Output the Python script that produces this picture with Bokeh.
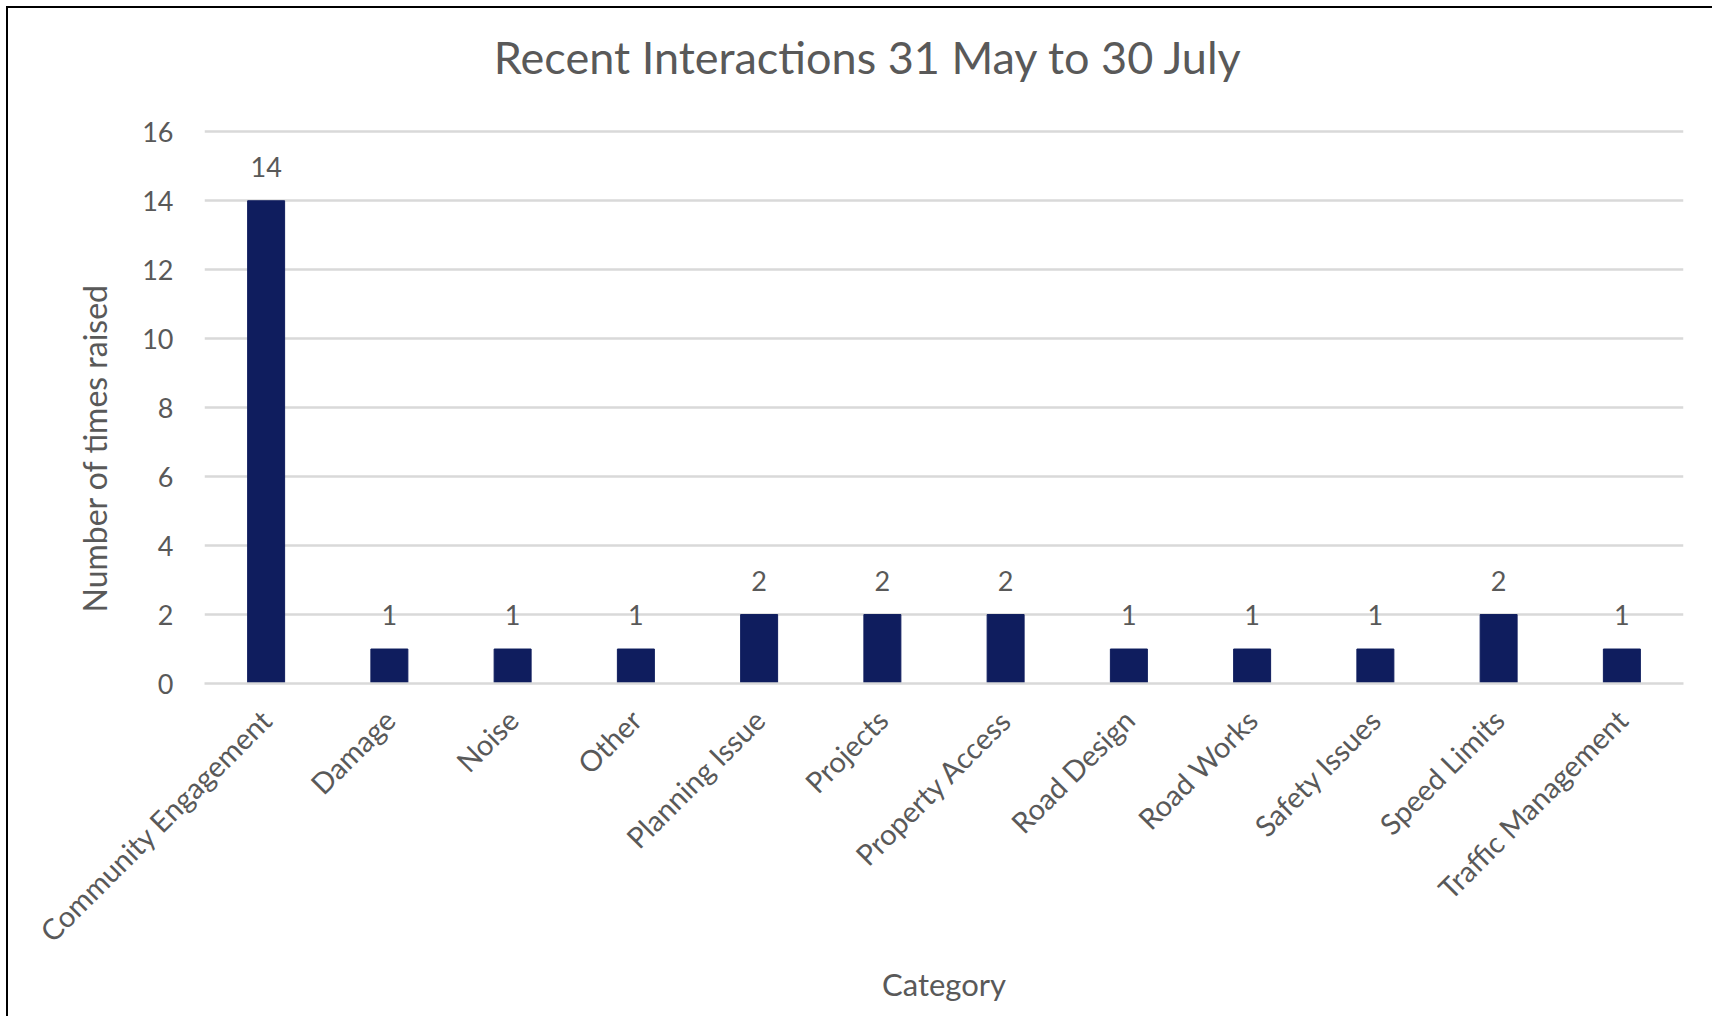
import math
from bokeh.plotting import figure
from bokeh.models import (ColumnDataSource, FactorRange, Range1d, FixedTicker,
                          Title, Label)
from bokeh.core.properties import value
from bokeh.embed import file_html
from bokeh.resources import INLINE

# ---- data ----
categories = ["Community Engagement", "Damage", "Noise", "Other", "Planning Issue",
              "Projects", "Property Access", "Road Design", "Road Works",
              "Safety Issues", "Speed Limits", "Traffic Management"]
counts = [14, 1, 1, 1, 2, 2, 2, 1, 1, 1, 2, 1]
y_ticks = [0, 2, 4, 6, 8, 10, 12, 14, 16]
title_text = "Recent Interactions 31 May to 30 July"
x_title = "Category"
y_title = "Number of times raised"

FONT = "Lato"
GRAY = "#595959"
BAR = "#0f1d5e"
GRID = "#d9d9d9"

# layout (canvas pixels)
W, H = 1706, 1010
FRAME_L, FRAME_R, FRAME_T, FRAME_B = 196, 1675, 4, 675
PX_PER_UNIT = 34.48
y_top = (FRAME_B - FRAME_T) / PX_PER_UNIT  # headroom above the 16 gridline holds the title

src = ColumnDataSource(dict(cat=categories, n=counts, lab=[str(v) for v in counts]))

p = figure(x_range=FactorRange(*categories), y_range=Range1d(0, y_top),
           width=W, height=H, output_backend="svg", toolbar_location=None,
           min_border_left=FRAME_L, min_border_right=W - FRAME_R,
           min_border_top=FRAME_T, min_border_bottom=H - FRAME_B)
p.margin = (6, 0, 0, 6)
p.styles = {"border-top": "2px solid #000", "border-left": "2px solid #000"}
p.outline_line_color = None
p.background_fill_color = "white"
p.border_fill_color = "white"

p.vbar(x="cat", top="n", width=0.3, source=src, fill_color=BAR, line_color=BAR)
p.text(x="cat", y="n", text="lab", source=src, text_align="center",
       text_baseline="alphabetic", y_offset=-34, text_color=GRAY,
       text_font=value(FONT), text_font_size="27px")

p.xgrid.grid_line_color = None
p.ygrid.grid_line_color = GRID
p.ygrid.grid_line_width = 2.5

p.yaxis.ticker = FixedTicker(ticks=y_ticks)
for ax in (p.xaxis[0], p.yaxis[0]):
    ax.major_tick_line_color = None
    ax.minor_tick_line_color = None
    ax.major_tick_out = 0
    ax.major_tick_in = 0
    ax.minor_tick_out = 0
    ax.major_label_text_color = GRAY
    ax.major_label_text_font = FONT
p.yaxis.major_label_text_font_size = "27px"
p.xaxis.major_label_text_font_size = "29px"
p.yaxis.axis_line_color = None
p.yaxis.major_label_standoff = 31
p.xaxis.axis_line_color = GRID
p.xaxis.axis_line_width = 2.5
p.xaxis.major_label_orientation = math.pi / 4
p.xaxis.major_label_standoff = 31
p.xaxis.axis_label = x_title
p.xaxis.axis_label_text_font = FONT
p.xaxis.axis_label_text_font_style = "normal"
p.xaxis.axis_label_text_font_size = "31px"
p.xaxis.axis_label_text_color = GRAY
p.xaxis.axis_label_standoff = 1

p.add_layout(Label(x=860 - FRAME_L, y=FRAME_B - 48, x_units="screen", y_units="screen",
                   text=title_text, text_align="center", text_baseline="alphabetic",
                   text_font=FONT, text_font_size="45px", text_color=GRAY))
p.add_layout(Title(text=y_title, align="left", offset=71, standoff=52,
                   text_font=FONT, text_font_size="32px", text_font_style="normal",
                   text_color=GRAY), "left")

open("out.html", "w").write(file_html(p, INLINE))
